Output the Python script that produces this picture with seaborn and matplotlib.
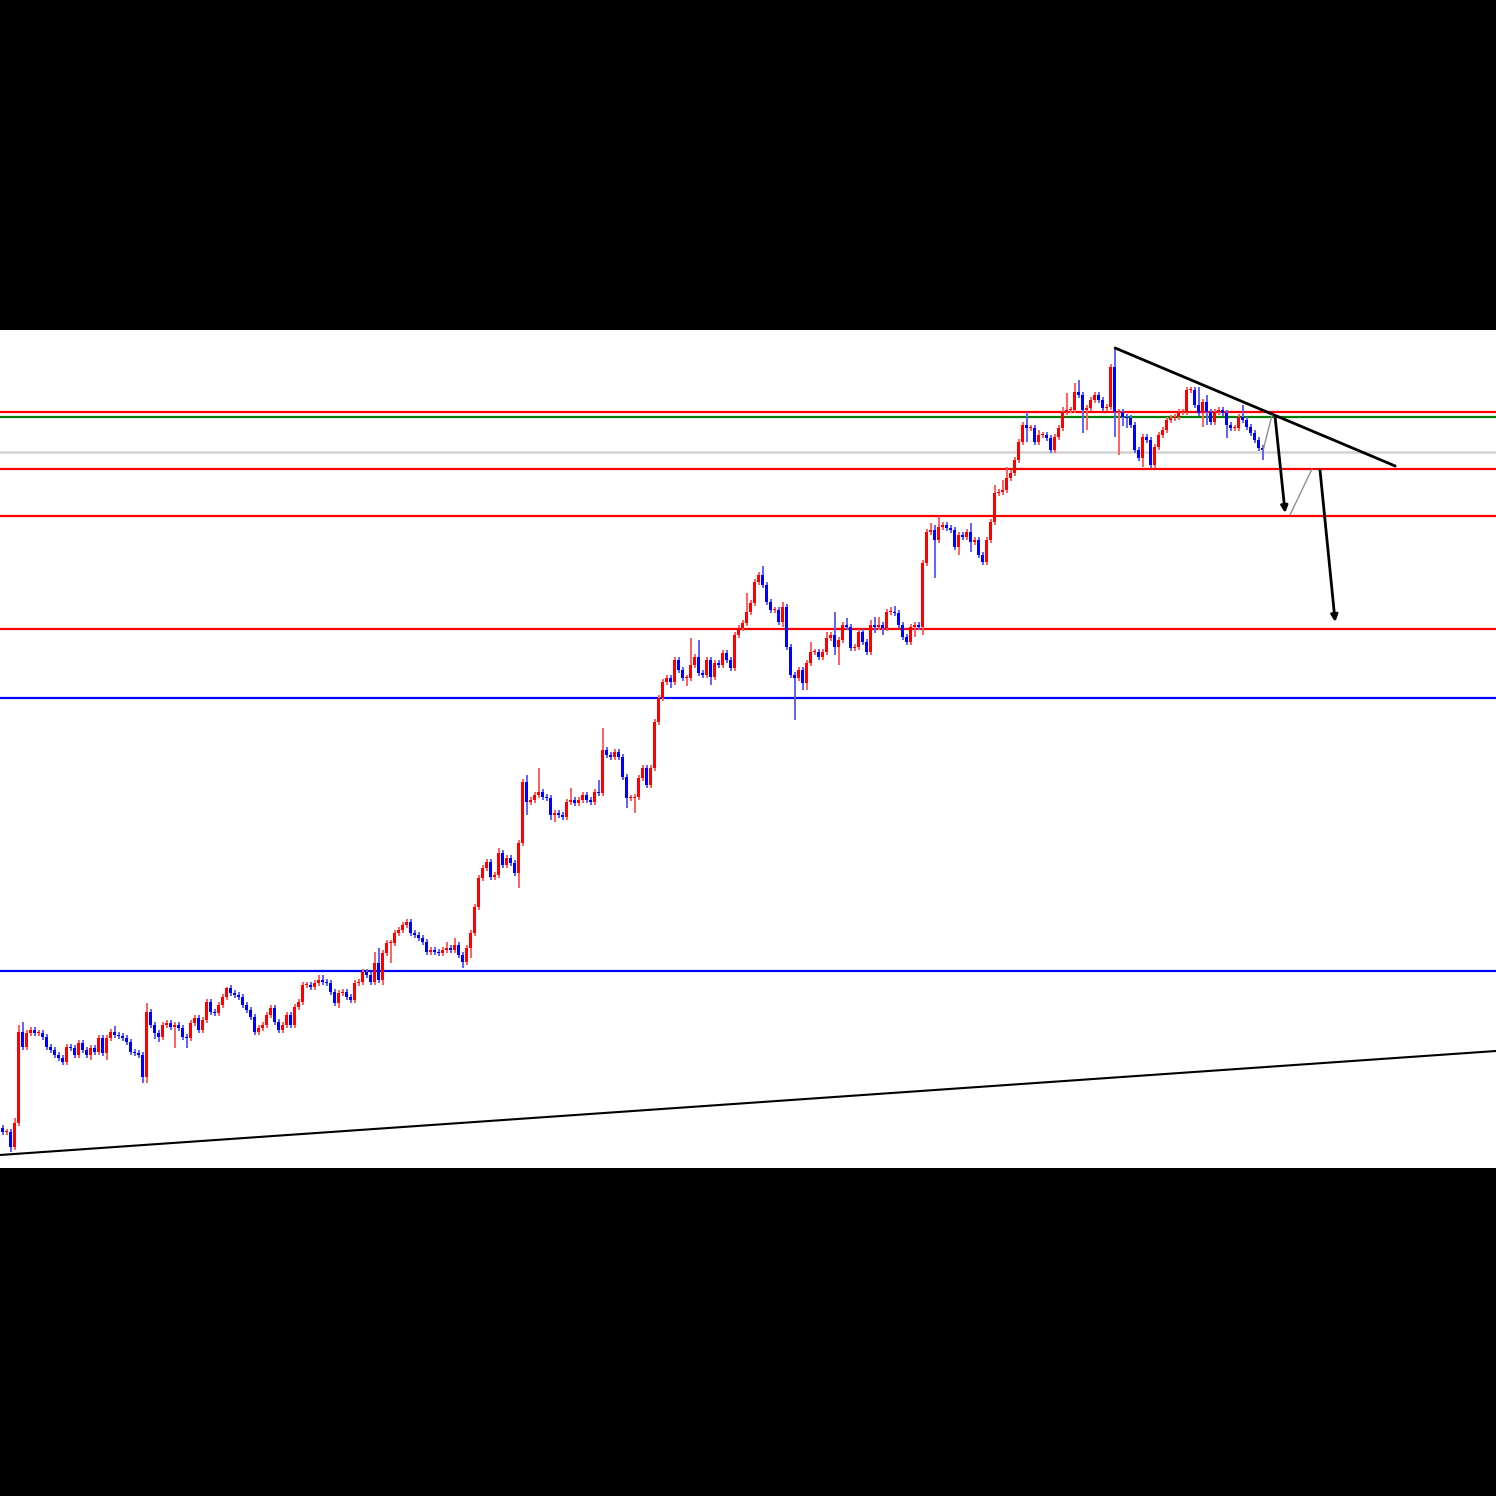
import numpy as np
import seaborn as sns
import matplotlib.pyplot as plt

# candle closes (price units), open of each bar = previous close
first_open = 40
closes = [
    36, 36, 21, 45, 136, 121, 135, 138, 135, 135, 131, 121, 118, 113, 110, 106, 121, 120, 113, 125,
    118, 113, 120, 116, 130, 115, 130, 136, 133, 132, 130, 126, 116, 115, 113, 91, 156, 143, 135, 131,
    143, 145, 141, 143, 140, 131, 130, 145, 150, 138, 148, 166, 156, 155, 163, 171, 180, 175, 173, 171,
    163, 158, 151, 136, 140, 143, 153, 160, 146, 138, 143, 153, 143, 161, 166, 183, 183, 181, 185, 188,
    186, 185, 176, 165, 175, 176, 171, 168, 185, 186, 196, 193, 186, 205, 188, 215, 225, 225, 235, 238,
    243, 246, 235, 233, 230, 226, 216, 218, 216, 215, 218, 220, 218, 223, 213, 206, 220, 235, 261, 290,
    300, 306, 291, 293, 315, 303, 310, 305, 295, 325, 386, 366, 368, 373, 376, 371, 370, 353, 355, 353,
    351, 366, 368, 365, 368, 373, 368, 366, 376, 375, 418, 413, 411, 416, 411, 391, 370, 370, 371, 390,
    400, 383, 400, 446, 470, 486, 490, 486, 508, 498, 490, 490, 503, 511, 495, 493, 508, 491, 505, 503,
    515, 508, 500, 533, 540, 545, 556, 565, 586, 593, 583, 566, 558, 558, 546, 561, 521, 493, 490, 498,
    485, 505, 516, 516, 511, 516, 530, 533, 521, 528, 543, 541, 520, 521, 536, 526, 516, 543, 541, 543,
    540, 556, 556, 555, 543, 531, 526, 541, 543, 541, 605, 636, 638, 628, 641, 643, 640, 638, 621, 633,
    631, 636, 626, 628, 613, 606, 628, 646, 675, 676, 678, 690, 695, 708, 726, 743, 740, 740, 726, 733,
    733, 730, 718, 731, 740, 756, 758, 758, 776, 773, 758, 760, 768, 773, 768, 760, 761, 801, 756, 756,
    751, 750, 743, 718, 710, 731, 728, 703, 721, 733, 738, 748, 750, 751, 756, 756, 778, 778, 763, 755,
    766, 756, 746, 756, 758, 755, 743, 740, 740, 751, 748, 741, 735, 728, 720, 718,
]

# wick length above / below the body
wick_hi = [
    3, 3, 3, 5, 7, 10, 3, 3, 3, 3, 3, 3, 3, 3, 3, 3, 3, 3, 3, 3,
    3, 3, 3, 3, 3, 3, 3, 3, 6, 3, 3, 3, 3, 3, 3, 3, 9, 3, 3, 3,
    3, 3, 3, 3, 3, 3, 3, 3, 3, 3, 3, 3, 3, 3, 3, 3, 1, 3, 3, 3,
    3, 3, 3, 3, 3, 3, 3, 3, 3, 3, 3, 3, 3, 3, 3, 3, 3, 3, 3, 5,
    5, 3, 3, 3, 3, 3, 3, 3, 3, 3, 3, 3, 3, 11, 15, 3, 3, 3, 3, 3,
    3, 3, 3, 3, 3, 3, 3, 3, 3, 3, 3, 6, 3, 7, 3, 3, 3, 3, 3, 3,
    3, 3, 3, 3, 5, 3, 3, 3, 3, 3, 3, 7, 3, 3, 24, 3, 3, 3, 3, 3,
    3, 3, 12, 3, 3, 3, 3, 3, 3, 12, 22, 3, 3, 3, 3, 3, 3, 3, 3, 3,
    3, 3, 3, 3, 3, 3, 3, 3, 3, 3, 3, 3, 27, 3, 17, 3, 3, 3, 3, 3,
    3, 3, 3, 3, 3, 3, 19, 3, 3, 3, 9, 3, 3, 3, 3, 5, 3, 3, 3, 3,
    3, 3, 10, 3, 3, 3, 6, 3, 23, 3, 3, 7, 3, 3, 3, 3, 3, 5, 8, 8,
    3, 3, 5, 6, 3, 3, 3, 3, 3, 3, 3, 3, 7, 5, 11, 3, 3, 3, 3, 3,
    3, 3, 9, 3, 3, 3, 3, 3, 8, 3, 10, 11, 3, 3, 3, 3, 13, 3, 3, 5,
    3, 3, 3, 3, 3, 5, 17, 3, 9, 12, 3, 3, 3, 3, 3, 3, 3, 3, 19, 3,
    3, 3, 3, 3, 3, 3, 3, 3, 3, 3, 3, 3, 3, 3, 3, 3, 3, 3, 3, 18,
    3, 7, 3, 3, 3, 3, 3, 3, 3, 3, 12, 3, 3, 3, 3, 3,
]
wick_lo = [
    3, 3, 5, 3, 3, 3, 3, 3, 3, 3, 3, 3, 3, 3, 3, 3, 3, 3, 3, 3,
    3, 3, 5, 3, 3, 3, 7, 3, 3, 3, 3, 3, 3, 3, 3, 6, 6, 3, 6, 5,
    3, 3, 3, 21, 3, 3, 10, 3, 3, 3, 3, 3, 3, 3, 3, 3, 3, 3, 3, 3,
    3, 3, 3, 3, 3, 3, 3, 3, 3, 3, 3, 3, 3, 3, 3, 3, 3, 3, 3, 3,
    3, 3, 3, 3, 5, 3, 3, 3, 3, 3, 3, 3, 3, 3, 3, 5, 3, 20, 3, 3,
    3, 3, 3, 3, 3, 3, 3, 3, 3, 3, 3, 3, 3, 3, 3, 6, 3, 10, 3, 3,
    3, 3, 3, 3, 3, 3, 3, 3, 3, 15, 3, 13, 3, 3, 3, 3, 3, 5, 7, 3,
    3, 3, 3, 3, 3, 3, 3, 3, 3, 3, 3, 3, 3, 3, 3, 3, 10, 3, 15, 3,
    3, 3, 3, 3, 3, 3, 3, 6, 3, 3, 3, 8, 3, 3, 3, 3, 3, 8, 3, 3,
    3, 3, 3, 3, 3, 3, 3, 3, 3, 3, 3, 3, 3, 3, 3, 5, 3, 3, 42, 3,
    7, 7, 3, 3, 3, 3, 3, 3, 8, 18, 3, 3, 3, 3, 3, 3, 3, 3, 6, 3,
    7, 3, 3, 3, 3, 3, 3, 3, 10, 3, 8, 3, 3, 38, 3, 3, 3, 3, 3, 8,
    3, 3, 10, 3, 3, 3, 3, 3, 3, 3, 3, 3, 3, 3, 3, 3, 14, 3, 3, 3,
    3, 3, 3, 3, 3, 3, 3, 3, 3, 3, 23, 20, 3, 3, 3, 3, 3, 3, 25, 43,
    9, 10, 3, 3, 3, 9, 3, 3, 3, 3, 3, 3, 3, 3, 3, 3, 3, 3, 3, 3,
    14, 13, 3, 3, 3, 3, 13, 3, 3, 3, 3, 3, 3, 3, 3, 10,
]

# horizontal levels
red_levels = [756, 699, 652, 539]
green_levels = [751]
gray_levels = [716]
blue_levels = [470, 197]

# trend lines (bar index, price)
down_trend = [(278.1, 820), (348.1, 702)]
up_trend = [(-0.7, 13), (373.3, 117)]

# projected path
path_gray = [[(315.1, 718), (317.3, 753)], [(321.8, 653), (327.3, 699)]]
path_arrows = [[(318.1, 750), (320.6, 655)], [(329.3, 698), (333.1, 546)]]

sns.set_theme(style="white")

closes = np.array(closes, dtype=float)
opens = np.concatenate([[first_open], closes[:-1]])
x = np.arange(len(closes))
top = np.maximum(opens, closes)
bot = np.minimum(opens, closes)
highs = top + np.array(wick_hi)
lows = bot - np.array(wick_lo)
up = closes >= opens

fig = plt.figure(figsize=(14.96, 14.96), dpi=100, facecolor="black")
ax = fig.add_axes([0, 328 / 1496, 1, 838 / 1496])
ax.set_facecolor("white")

for lvl in gray_levels:
    ax.axhline(lvl, color="#d3d3d3", lw=1.8, zorder=1)
for lvl in red_levels:
    ax.axhline(lvl, color="red", lw=1.6, zorder=1)
for lvl in green_levels:
    ax.axhline(lvl, color="green", lw=1.6, zorder=1)
for lvl in blue_levels:
    ax.axhline(lvl, color="blue", lw=1.6, zorder=1)

ax.vlines(x[up], lows[up], highs[up], color="#ff6060", lw=1.4, zorder=2)
ax.vlines(x[~up], lows[~up], highs[~up], color="#6060ff", lw=1.4, zorder=2)
height = np.maximum(top - bot, 1.5)
ax.bar(x[up], height[up], bottom=bot[up], width=0.8, color="red", linewidth=0, zorder=3)
ax.bar(x[~up], height[~up], bottom=bot[~up], width=0.8, color="blue", linewidth=0, zorder=3)

ax.plot([p[0] for p in down_trend], [p[1] for p in down_trend], color="black", lw=2.0, zorder=4)
ax.plot([p[0] for p in up_trend], [p[1] for p in up_trend], color="black", lw=1.5, zorder=4)

for seg in path_gray:
    ax.plot([p[0] for p in seg], [p[1] for p in seg], color="#909090", lw=1.0, zorder=4)
for seg in path_arrows:
    ax.annotate("", xy=seg[1], xytext=seg[0],
                arrowprops=dict(arrowstyle="-|>", color="black", lw=2.0,
                                mutation_scale=10, shrinkA=0, shrinkB=0), zorder=5)

ax.set_xlim(-0.675, 373.3)
ax.set_ylim(0, 838)
ax.set_xticks([])
ax.set_yticks([])
for s in ax.spines.values():
    s.set_visible(False)

fig.savefig("out.png", dpi=100, facecolor="black")
